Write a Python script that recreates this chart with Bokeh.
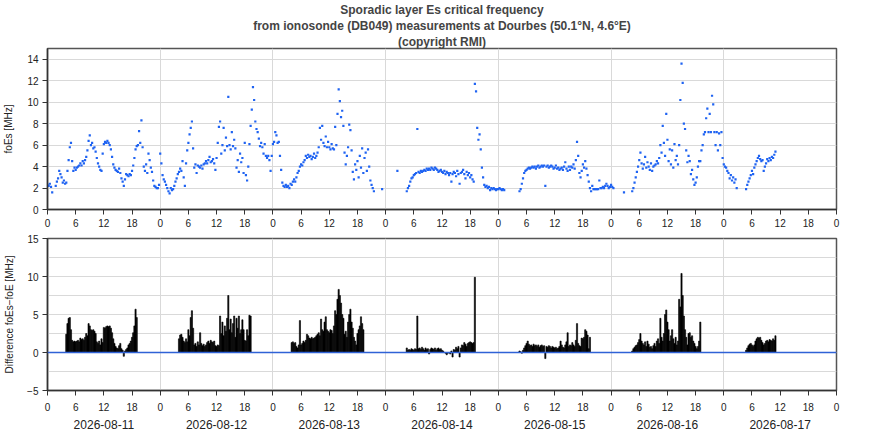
from bokeh.plotting import figure
from bokeh.layouts import column
from bokeh.models import FixedTicker, LinearAxis, Range1d, Span, Title
from bokeh.embed import file_html
from bokeh.resources import INLINE

FONT = "Liberation Sans"

dates = ["2026-08-11", "2026-08-12", "2026-08-13", "2026-08-14",
         "2026-08-15", "2026-08-16", "2026-08-17"]

# foEs [MHz], one value every 15 minutes from 00:00 UT of each day (None = no value)
foes_0811 = [2.3, 2.2, 2.4, 2.1, 1.6, None, None, 2.2, 2.6, 2.9, 3.6, 3.3, 3.0, 2.5, 2.7, 2.4,
             2.5, 3.6, 4.6, 5.8, 6.2, 4.5, 3.6, 3.9, 3.7, 3.9, 4.0, 4.1, 4.3, 4.1, 4.5, 4.3,
             4.6, 4.9, 5.5, 6.4, 6.9, 6.0, 6.2, 5.7, 5.8, 5.4, 4.8, 4.3, 4.0, 3.7, 3.6, 5.2,
             6.1, 6.3, 6.2, 6.4, 6.2, 6.0, 5.6, 4.9, 4.2, 3.9, 3.7, 3.6, 3.5, 3.8, 3.4, 2.9,
             2.6, 2.2, 2.8, 3.3, 3.2, 3.1, 3.3, 3.2, 3.6, 4.1, 4.8, 5.6, 5.9, 6.0, 7.3, 6.2,
             8.3, 5.8, 4.0, 3.6, 4.2, 3.4, 5.2, 4.6, 3.9, 3.5, 2.7, 2.2, 2.1, 2.0, 2.0, 2.3]
foes_0812 = [5.2, 4.3, 3.2, 2.8, 2.6, 2.3, 2.0, 1.7, 1.5, 2.0, 1.8, 1.9, 2.2, 2.6, 2.9, 3.3,
             3.5, 3.8, 3.6, 4.5, 3.0, 2.2, 4.3, 5.5, 6.2, 7.0, 7.6, 8.2, 5.7, 3.9, 4.2, 3.4,
             4.1, 4.0, 3.9, 4.1, 3.8, 4.2, 4.3, 4.5, 4.3, 4.6, 4.9, 4.4, 4.5, 4.7, 4.3, 3.7,
             4.8, 6.2, 7.7, 8.2, 5.2, 6.0, 7.6, 5.5, 6.7, 5.9, 10.5, 6.0, 5.6, 7.2, 5.9, 6.5,
             5.7, 3.9, 4.6, 3.5, 5.2, 4.4, 4.8, 3.4, 6.2, 3.2, 2.7, 4.0, 6.1, 7.8, 9.3, 11.4,
             10.2, 8.2, 7.5, 7.2, 6.6, 5.9, 6.2, 5.8, 5.2, 6.1, 5.0, 4.8, 5.0, 4.6, 3.6, 5.0]
foes_0813 = [6.1, 6.3, 7.2, 6.9, 6.2, 6.3, 5.0, 3.7, 2.5, 2.2, 2.1, 2.3, 2.1, 2.2, 2.0, 2.4,
             2.3, 2.6, 2.8, 2.6, 3.0, 3.4, 3.6, 4.0, 4.2, 4.1, 4.4, 4.6, 5.0, 4.8, 5.1, 4.9,
             5.0, 4.7, 4.9, 5.2, 4.8, 5.0, 5.3, 5.8, 7.6, 6.5, 7.8, 6.2, 5.9, 6.8, 5.8, 6.3,
             5.8, 5.6, 6.1, 5.7, 5.6, 7.7, 6.0, 8.9, 11.2, 10.1, 8.6, 9.2, 7.8, 5.3, 4.2, 5.0,
             5.8, 7.9, 7.4, 5.5, 3.5, 2.8, 4.2, 3.7, 4.5, 3.0, 5.0, 3.9, 5.7, 3.4, 4.8, 5.3,
             3.6, 5.6, 4.0, 2.7, 2.3, 2.0, 1.7, None, None, None, None, None, None, 1.9, None, None]
foes_0814 = [None, None, None, None, None, None, None, None, None, None, 3.6, None, None, None, None, None,
             None, None, 1.7, 2.0, 2.2, 2.6, 2.9, 3.0, 3.2, 3.3, 3.4, 7.5, 3.5, 3.4, 3.6, 3.5,
             3.6, 3.7, 3.6, 3.8, 3.7, 3.8, 3.7, 3.9, 3.8, 3.7, 3.9, 3.8, 3.7, 3.5, 3.6, 3.7,
             3.5, 3.4, 3.6, 3.3, 3.5, 3.4, 3.2, 3.4, 2.6, 3.3, 3.5, 3.4, 3.1, 3.6, 3.3, 2.4,
             3.4, 3.5, 3.7, 3.3, 2.9, 3.5, 3.2, 3.4, 3.0, 3.2, 2.8, 2.6, 11.7, 11.0, 7.6, 6.5,
             7.0, 5.6, 3.9, 3.0, 2.3, 2.1, 2.2, 2.0, 2.1, 1.8, 2.0, 1.9, 2.0, 1.9, 1.8, 1.9]
foes_0815 = [1.9, 2.0, 1.9, 1.8, 1.9, 1.8, None, None, None, None, None, None, None, None, None, None,
             None, None, 1.7, 1.9, 2.4, 2.9, 3.4, 3.6, 3.7, 3.8, 3.9, 3.8, 3.9, 4.0, 3.9, 4.0,
             3.8, 4.0, 4.1, 3.9, 4.0, 4.1, 4.0, 4.1, 2.2, 4.0, 4.1, 3.9, 4.0, 4.1, 4.0, 3.8,
             3.9, 4.1, 3.8, 3.9, 3.7, 3.8, 3.9, 3.7, 4.0, 4.4, 3.8, 3.6, 4.0, 3.7, 4.0, 3.9,
             4.2, 3.8, 4.6, 6.3, 5.0, 3.4, 3.0, 3.6, 4.2, 3.9, 4.5, 3.8, 3.2, 2.6, 2.0, 1.7,
             2.2, 1.9, 1.9, 1.9, 1.9, 1.9, 2.7, 2.0, 2.0, 2.1, 2.0, 2.2, 2.4, 2.2, 2.0, 2.1]
foes_0816 = [2.3, 2.1, 2.0, None, None, None, None, None, None, None, None, 1.6, None, None, None, None,
             None, None, 1.7, 2.0, 2.5, 3.0, 3.5, 4.0, 4.6, 5.3, 4.3, 3.8, 4.2, 4.9, 3.9, 4.4,
             4.0, 3.7, 4.3, 3.6, 4.0, 4.1, 4.2, 4.5, 4.3, 4.8, 6.0, 5.3, 7.8, 6.2, 5.0, 8.9,
             6.5, 4.5, 5.6, 4.2, 5.5, 3.9, 6.1, 4.6, 5.0, 4.2, 6.0, 10.2, 13.6, 11.8, 8.0, 7.5,
             5.5, 4.4, 5.0, 4.5, 3.3, 3.7, 2.8, 2.3, 2.5, 3.0, 4.0, 4.5, 4.5, 5.5, 6.0, 7.0,
             7.2, 8.5, 9.4, 7.2, 8.9, 7.2, 10.6, 9.8, 7.2, 6.0, 7.2, 5.5, 7.1, 6.0, 7.2, 4.8]
foes_0817 = [4.2, 4.0, 3.9, 3.6, 3.4, 2.9, 3.2, 2.7, 3.0, 2.5, 2.8, 2.0, None, None, None, None,
             None, None, None, 1.9, 2.3, 2.6, 2.9, 3.2, 3.6, 3.3, 3.9, 4.2, 4.5, 4.8, 5.0, 4.7,
             4.5, 4.6, 3.6, 4.0, 4.3, 4.7, 4.5, 4.8, 4.6, 4.9, 4.8, 5.1, 5.4]

foes_days = [foes_0811, foes_0812, foes_0813, foes_0814, foes_0815, foes_0816, foes_0817]

# foEs - foE [MHz], every 15 minutes, first value at diff_start hour (UT)
diff_start = [4.0, 4.0, 4.0, 4.5, 4.5, 4.5, 4.75]
diff_0811 = [2.4, 3.8, 4.5, 4.6, 3.0, 1.6, 1.4, 1.5, 1.4, 1.5, 1.6, 1.4, 1.9, 1.7, 1.8, 1.6,
             2.0, 2.5, 2.2, 3.8, 3.5, 3.0, 2.9, 3.0, 2.8, 2.5, 1.4, 1.2, 1.5, 1.0, 1.8, 1.3,
             3.3, 3.2, 3.4, 3.5, 3.4, 3.5, 3.2, 2.6, 1.8, 1.2, 0.8, 0.6, 0.5, 0.9, 1.2, 0.5,
             0.3, -0.5, 0.2, 0.4, 0.6, 1.0, 1.2, 1.5, 2.0, 2.6, 3.5, 5.7, 4.6]
diff_0812 = [1.8, 2.3, 2.4, 2.0, 1.5, 1.3, 1.8, 1.4, 3.0, 2.2, 4.6, 5.5, 3.2, 1.0, 1.2, 0.8,
             1.4, 1.0, 2.6, 1.2, 0.9, 1.1, 0.8, 1.0, 1.3, 1.5, 1.2, 1.6, 1.4, 1.3, 1.5, 0.9,
             0.8, 1.0, 0.9, 4.8, 2.5, 4.0, 2.2, 3.5, 2.8, 4.5, 7.5, 3.0, 4.4, 2.6, 3.8, 4.8,
             2.0, 4.5, 3.2, 4.8, 2.5, 3.0, 4.3, 3.0, 1.6, 1.5, 3.0, 2.2, 4.9, 4.8]
diff_0813 = [1.3, 1.4, 1.2, 1.3, 0.8, 0.6, 1.0, 4.2, 1.0, 1.2, 1.5, 1.3, 1.6, 2.4, 2.2, 1.9,
             1.8, 2.0, 1.8, 1.9, 2.0, 2.2, 2.4, 2.6, 2.2, 4.4, 3.0, 2.8, 4.0, 4.7, 3.0, 2.8,
             2.6, 3.0, 2.9, 2.5, 3.5, 5.5, 5.0, 7.0, 8.3, 7.5, 6.5, 5.0, 4.5, 2.4, 2.8, 2.0,
             4.0, 5.0, 5.7, 4.0, 3.2, 2.0, 1.5, 1.0, 2.5, 3.0, 3.5, 4.7, 3.8, 3.0]
diff_0814 = [0.6, 0.3, 0.4, 0.3, 0.5, 0.4, 0.3, 0.5, 0.4, 4.8, 0.5, 0.6, 0.4, 0.7, 0.5, 0.3,
             0.6, 0.4, 0.5, -0.2, 0.4, 0.6, 0.5, 0.4, 0.6, 0.3, 0.5, 0.6, 0.4, 0.5, 0.3, 0.2,
             0.0, -0.1, -0.3, -0.1, 0.0, -0.2, 0.2, -0.6, 0.4, 0.3, 0.7, 0.5, 0.8, -0.6, 0.6, 1.0,
             0.9, 1.3, 1.1, 0.8, 1.2, 1.3, 1.4, 1.3, 1.2, 1.3, 9.9]
diff_0815 = [0.2, 0.1, -0.1, 0.3, 0.6, 0.9, 1.2, 1.5, 1.1, 0.9, 1.0, 0.8, 1.1, 0.9, 1.0, 0.8,
             1.0, 0.7, 0.9, 1.0, 0.8, 0.9, -0.8, 0.8, 0.7, 0.9, 0.8, 0.6, 0.8, 0.7, 0.6, 0.7,
             0.5, 0.6, 0.8, 1.5, 1.0, 0.7, 0.6, 1.0, 1.4, 2.6, 0.8, 1.0, 0.9, 1.3, 1.0, 0.8,
             1.6, 3.8, 1.2, 0.9, 0.8, 1.9, 1.8, 2.0, 3.0, 2.8, 2.3, 0.5, 2.0]
diff_0816 = [0.2, 0.5, 0.7, 0.9, 1.0, 1.3, 1.7, 2.5, 1.5, 1.2, 1.0, 1.4, 0.8, 1.5, 1.1, 0.7,
             0.8, 0.5, 0.9, 1.2, 0.8, 1.5, 1.8, 1.2, 4.5, 2.0, 1.5, 2.5, 5.0, 5.6, 4.0, 3.0,
             1.5, 2.2, 3.0, 1.8, 1.2, 2.0, 1.0, 1.5, 7.0, 6.0, 10.4, 7.5, 4.8, 3.0, 2.0, 1.0,
             2.5, 2.6, 2.0, 2.2, 1.5, 1.2, 0.8, 0.5, 0.8, 1.5, 4.0]
diff_0817 = [0.3, 0.6, 0.9, 1.1, 1.2, 1.0, 0.8, 1.0, 1.5, 1.8, 2.0, 1.9, 2.0, 1.6, 1.3, 1.0,
             1.2, 1.5, 1.6, 1.4, 1.7, 1.6, 1.5, 1.8, 1.6, 2.2]

diff_days = [diff_0811, diff_0812, diff_0813, diff_0814, diff_0815, diff_0816, diff_0817]

STEP = 0.25  # hours between soundings used here
N_HOURS = 24 * len(dates)
hour_ticks = list(range(0, N_HOURS + 1, 6))
day_lines = list(range(24, N_HOURS, 24))


def main():
    fx, fy = [], []
    for d, vals in enumerate(foes_days):
        for i, v in enumerate(vals):
            if v is not None:
                fx.append(24 * d + i * STEP)
                fy.append(v)

    dx, dy = [], []
    for d, vals in enumerate(diff_days):
        for i, v in enumerate(vals):
            dx.append(24 * d + diff_start[d] + i * STEP)
            dy.append(v)

    top = build_top(fx, fy)
    bot = build_bottom(dx, dy)

    open("out.html", "w").write(file_html(column(top, bot), INLINE))


def style(p):
    p.outline_line_color = "#555555"
    p.outline_line_width = 1.5
    p.background_fill_color = "white"
    p.border_fill_color = "white"

    p.xaxis.ticker = FixedTicker(ticks=hour_ticks)
    p.xaxis.major_label_overrides = {h: str(h % 24) for h in hour_ticks}
    p.xgrid.ticker = FixedTicker(ticks=day_lines)
    p.grid.grid_line_color = "#d9d9d9"
    p.grid.grid_line_width = 1

    p.axis.axis_line_color = "#333333"
    p.axis.axis_line_width = 1.5
    p.axis.major_tick_line_color = "#333333"
    p.axis.major_tick_out = 5
    p.axis.major_tick_in = 0
    p.axis.minor_tick_line_color = None
    p.axis.major_label_text_font = FONT
    p.axis.major_label_text_font_size = "10px"
    p.axis.major_label_text_color = "#222222"
    p.axis.major_label_standoff = 4
    p.axis.axis_label_text_font = FONT
    p.axis.axis_label_text_font_size = "10px"
    p.axis.axis_label_text_font_style = "normal"
    p.axis.axis_label_text_color = "#222222"


def build_top(fx, fy):
    p = figure(frame_width=789, frame_height=161, x_range=Range1d(0, N_HOURS), y_range=Range1d(0, 15),
               output_backend="svg", toolbar_location=None,
               min_border_left=43, min_border_right=40, min_border_top=0, min_border_bottom=0,
               title="Sporadic layer Es critical frequency")
    style(p)
    p.title.align = "center"
    p.title.text_font = FONT
    p.title.text_font_size = "12px"
    p.title.standoff = 0
    # extra title lines: the first one added sits closest to the frame
    for line in ["(copyright RMI)",
                 "from ionosonde (DB049) measurements at Dourbes (50.1\u00b0N, 4.6\u00b0E)"]:
        p.add_layout(Title(text=line, align="center", text_font=FONT, text_font_size="12px",
                           standoff=0), "above")

    p.yaxis.ticker = FixedTicker(ticks=list(range(0, 15, 2)))
    p.ygrid.ticker = FixedTicker(ticks=list(range(2, 15, 2)))
    p.yaxis.axis_label = "foEs [MHz]"
    p.yaxis.axis_label_standoff = 10
    p.xaxis.major_label_standoff = 4

    p.scatter(fx, fy, marker="square", size=2.2, color="#1f63f2", line_width=0)
    return p


def build_bottom(dx, dy):
    p = figure(frame_width=789, frame_height=152, x_range=Range1d(0, N_HOURS), y_range=Range1d(-5, 15),
               output_backend="svg", toolbar_location=None,
               min_border_left=43, min_border_right=40, min_border_top=9, min_border_bottom=0)
    style(p)
    p.yaxis.ticker = FixedTicker(ticks=[-5, 0, 5, 10, 15])
    p.ygrid.ticker = FixedTicker(ticks=[-2.5, 0, 2.5, 5, 7.5, 10, 12.5])
    p.yaxis.axis_label = "Difference foEs\u2212foE [MHz]"
    p.yaxis.axis_label_standoff = 9
    p.xaxis.major_label_standoff = 7

    p.add_layout(Span(location=0, dimension="width", line_color="#2f62d6", line_width=1.3))
    p.vbar(x=dx, top=dy, bottom=0, width=STEP, color="black", line_width=0.6)

    date_ticks = [24 * d + 12 for d in range(len(dates))]
    date_axis = LinearAxis(ticker=FixedTicker(ticks=date_ticks),
                           major_label_overrides={t: dates[i] for i, t in enumerate(date_ticks)},
                           axis_line_color=None, major_tick_line_color=None,
                           minor_tick_line_color=None, major_label_standoff=0,
                           major_label_text_font=FONT, major_label_text_font_size="12px",
                           major_label_text_color="#222222")
    p.add_layout(date_axis, "below")
    return p


if __name__ == "__main__":
    main()
